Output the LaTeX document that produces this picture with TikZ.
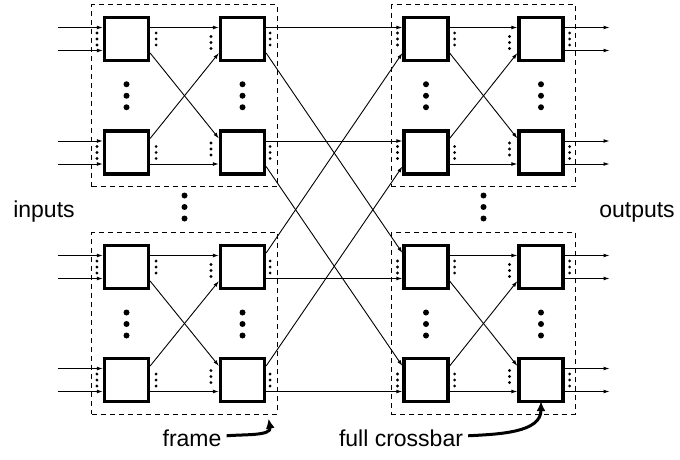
\documentclass[tikz,border=0pt]{standalone}
\usepackage{fontspec}
\setmainfont{Liberation Sans}
\usetikzlibrary{arrows.meta,fit,calc}
\begin{document}
\begin{tikzpicture}[x=1pt,y=-1pt,
  sw/.style={draw, line width=3.2pt, fill=white, minimum width=44pt, minimum height=43pt, inner sep=0pt},
  link/.style={line width=0.9pt, -{Latex[length=6pt,width=3.8pt]}},
  framebox/.style={draw, dash pattern=on 5pt off 4pt, line width=0.9pt, inner sep=11pt},
  lbl/.style={font=\fontsize{23}{27}\selectfont, inner sep=0pt},
  callout/.style={line width=3pt, -{Latex[length=10pt,width=9pt]}},
]
\useasboundingbox (0,0) rectangle (680,460);
\def\hofs{11.5}
\def\dofs{14}

% switches: columns 1..4, rows 1..4
\foreach \c/\x in {1/126.5,2/242.5,3/426,4/541}
  \foreach \r/\y in {1/39,2/152.5,3/267,4/380}
    \node[sw] (s\c\r) at (\x,\y) {};

% dashed frames around each 2x2 group
\node[framebox, fit=(s11)(s22)] (F1) {};
\node[framebox, fit=(s13)(s24)] (F2) {};
\node[framebox, fit=(s31)(s42)] (F3) {};
\node[framebox, fit=(s33)(s44)] (F4) {};

% network inputs and outputs
\foreach \r in {1,...,4} {
  \path (s1\r.west) ++(-45,-\hofs) coordinate (iu\r);
  \path (s1\r.west) ++(-45,\hofs) coordinate (il\r);
  \path (s4\r.east) ++(45,-\hofs) coordinate (ou\r);
  \path (s4\r.east) ++(45,\hofs) coordinate (ol\r);
  \draw[link] (iu\r) -- (iu\r -| s1\r.west);
  \draw[link] (il\r) -- (il\r -| s1\r.west);
  \draw[link] (ou\r -| s4\r.east) -- (ou\r);
  \draw[link] (ol\r -| s4\r.east) -- (ol\r);
}

% links inside each frame
\foreach \p/\q in {1/2,3/4}
  \foreach \a/\b in {1/2,3/4} {
    \draw[link] ($(s\p\a.east)+(0,-\hofs)$) -- ($(s\q\a.west)+(0,-\hofs)$);
    \draw[link] ($(s\p\a.east)+(0,\dofs)$) -- ($(s\q\b.west)+(0,-\dofs)$);
    \draw[link] ($(s\p\b.east)+(0,-\dofs)$) -- ($(s\q\a.west)+(0,\dofs)$);
    \draw[link] ($(s\p\b.east)+(0,\hofs)$) -- ($(s\q\b.west)+(0,\hofs)$);
  }

% links between the left and right frames
\draw[link] ($(s21.east)+(0,-\hofs)$) -- ($(s31.west)+(0,-\hofs)$);
\draw[link] ($(s21.east)+(0,\dofs)$) -- ($(s33.west)+(0,-\dofs)$);
\draw[link] ($(s22.east)+(0,-\hofs)$) -- ($(s32.west)+(0,-\hofs)$);
\draw[link] ($(s22.east)+(0,\dofs)$) -- ($(s34.west)+(0,-\dofs)$);
\draw[link] ($(s23.east)+(0,-\dofs)$) -- ($(s31.west)+(0,\dofs)$);
\draw[link] ($(s23.east)+(0,\hofs)$) -- ($(s33.west)+(0,\hofs)$);
\draw[link] ($(s24.east)+(0,-\dofs)$) -- ($(s32.west)+(0,\dofs)$);
\draw[link] ($(s24.east)+(0,\hofs)$) -- ($(s34.west)+(0,\hofs)$);

% small port dots beside each switch
\foreach \c/\lx/\rx in {1/-6/6,2/-8/4,3/-5/5,4/-8/5}
  \foreach \r/\sh in {1/3.5,2/-3.5,3/3.5,4/-3.5} {
    \pgfmathsetmacro\lsh{(\c==2 || \c==4) ? \sh : 0}
    \foreach \k in {-6,0,6} {
      \fill ($(s\c\r.west)+(\lx,\lsh+\k)$) circle (1.6pt);
      \fill ($(s\c\r.east)+(\rx,\k)$) circle (1.6pt);
    }
  }

% large ellipsis dots between rows and between frames
\foreach \x in {126.5,242.5,426,541}
  \foreach \y in {95.75,324}
    \foreach \k in {-11.5,0,11.5}
      \fill (\x,\y+\k) circle (3pt);
\foreach \x in {184.5,483.5}
  \foreach \k in {-11.5,0,11.5}
    \fill (\x,207+\k) circle (3pt);

% labels
\node[lbl, anchor=base] (inlbl) at (44,217) {inputs};
\node[lbl, anchor=base] (outlbl) at (637,217) {outputs};
\node[lbl, anchor=base] (frlbl) at (192,446) {frame};
\node[lbl, anchor=base] (xblbl) at (401,446) {full crossbar};

\path (F2.south east) ++(-9,4) coordinate (frtip);
\draw[callout] ([xshift=5pt,yshift=2pt]frlbl.east) to[out=5,in=-80] (frtip);
\draw[callout] ([xshift=5pt,yshift=2pt]xblbl.east) to[out=3,in=-90] ([yshift=2pt]s44.south);
\end{tikzpicture}
\end{document}
